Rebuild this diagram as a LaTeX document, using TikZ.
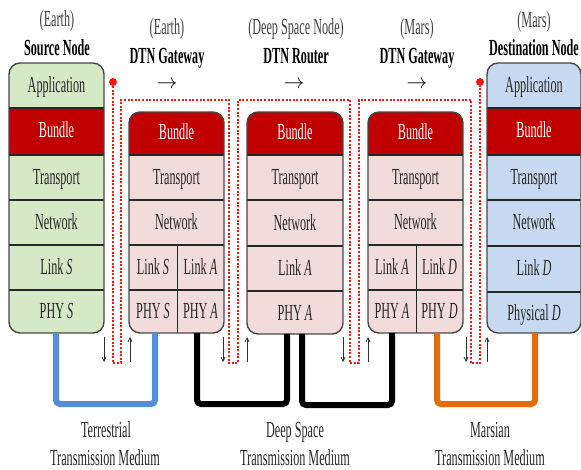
\documentclass[tikz,border=0pt]{standalone}
\usepackage{fontspec}
\setmainfont[FakeStretch=0.53]{Liberation Serif}
\usetikzlibrary{arrows.meta}

\definecolor{srcfill}{RGB}{214,233,198}
\definecolor{gwfill}{RGB}{242,220,219}
\definecolor{dstfill}{RGB}{198,217,240}
\definecolor{bundlered}{RGB}{192,0,0}
\definecolor{edgegray}{RGB}{70,70,70}
\definecolor{txt}{RGB}{38,38,38}
\definecolor{headgray}{RGB}{64,64,64}
\definecolor{terra}{RGB}{85,142,213}
\definecolor{marsorange}{RGB}{228,108,10}
\definecolor{pathred}{RGB}{250,20,20}

\tikzset{
  cell/.style={inner sep=0pt, text=txt, text height=15pt, text depth=0pt, anchor=center},
  bundletxt/.style={cell, text=white},
  boxline/.style={draw=edgegray, line width=1.4pt, rounded corners=11pt},
  rowline/.style={draw=black!85, line width=1.2pt},
  headlight/.style={inner sep=0pt, text=headgray, anchor=base},
  headbold/.style={inner sep=0pt, text=black, anchor=base, font=\fontsize{23}{25}\selectfont\bfseries},
  headarrow/.style={inner sep=0pt, text=black, font=\fontsize{22}{24}\selectfont},
  mediumtxt/.style={inner sep=0pt, text=txt, anchor=base},
  redpath/.style={draw=pathred, line width=2pt, dash pattern=on 2pt off 1.6pt},
  reddot/.style={circle, fill=pathred, inner sep=0pt, minimum size=8pt},
  flowarrow/.style={draw=black!80, line width=0.8pt, -{Straight Barb[length=4pt,width=4pt]}},
  medium/.style={line width=6pt, rounded corners=4pt},
}

\begin{document}
\begin{tikzpicture}[x=1pt, y=-1pt, font=\fontsize{23}{25}\selectfont]
\useasboundingbox (0,0) rectangle (581,470);

% ---------------- Source node (Earth) ----------------
\begin{scope}
  \clip[rounded corners=11pt] (9,63) rectangle (104,333);
  \fill[srcfill] (9,63) rectangle (104,333);
  \fill[bundlered] (9,108) rectangle (104,155);
\end{scope}
\foreach \yy in {108,155,200,245,290}
  \draw[rowline] (9,\yy) -- (104,\yy);
\draw[boxline] (9,63) rectangle (104,333);
\node[cell] (s-app) at (56.5,85.5) {Application};
\node[bundletxt] (s-bun) at (56.5,130.5) {Bundle};
\node[cell] (s-tra) at (56.5,177.5) {Transport};
\node[cell] (s-net) at (56.5,222.5) {Network};
\node[cell] (s-lnk) at (56.5,267.5) {Link \textit{S}};
\node[cell] (s-phy) at (56.5,311.5) {PHY \textit{S}};

% ---------------- DTN gateway (Earth) ----------------
\begin{scope}
  \clip[rounded corners=11pt] (129,112) rectangle (224,333);
  \fill[gwfill] (129,112) rectangle (224,333);
  \fill[bundlered] (129,112) rectangle (224,155);
\end{scope}
\foreach \yy in {155,200,245,290}
  \draw[rowline] (129,\yy) -- (224,\yy);
\draw[rowline, line width=0.9pt] (177,245) -- (177,333);
\draw[boxline] (129,112) rectangle (224,333);
\node[bundletxt] (g1-bun) at (176.5,132.5) {Bundle};
\node[cell] (g1-tra) at (176.5,177.5) {Transport};
\node[cell] (g1-net) at (176.5,222.5) {Network};
\node[cell] (g1-lnks) at (153,267.5) {Link \textit{S}};
\node[cell] (g1-lnka) at (200.5,267.5) {Link \textit{A}};
\node[cell] (g1-phys) at (153,311.5) {PHY \textit{S}};
\node[cell] (g1-phya) at (200.5,311.5) {PHY \textit{A}};

% ---------------- DTN router (deep space) ----------------
\begin{scope}
  \clip[rounded corners=11pt] (247,112) rectangle (343,334);
  \fill[gwfill] (247,112) rectangle (343,334);
  \fill[bundlered] (247,112) rectangle (343,155);
\end{scope}
\foreach \yy in {155,200,246,291}
  \draw[rowline] (247,\yy) -- (343,\yy);
\draw[boxline] (247,112) rectangle (343,334);
\node[bundletxt] (r-bun) at (295,132.5) {Bundle};
\node[cell] (r-tra) at (295,177.5) {Transport};
\node[cell] (r-net) at (295,223) {Network};
\node[cell] (r-lnk) at (295,268.5) {Link \textit{A}};
\node[cell] (r-phy) at (295,312.5) {PHY \textit{A}};

% ---------------- DTN gateway (Mars) ----------------
\begin{scope}
  \clip[rounded corners=11pt] (368,112) rectangle (463,333);
  \fill[gwfill] (368,112) rectangle (463,333);
  \fill[bundlered] (368,112) rectangle (463,155);
\end{scope}
\foreach \yy in {155,200,245,290}
  \draw[rowline] (368,\yy) -- (463,\yy);
\draw[rowline, line width=0.9pt] (416,245) -- (416,333);
\draw[boxline] (368,112) rectangle (463,333);
\node[bundletxt] (g2-bun) at (415.5,132.5) {Bundle};
\node[cell] (g2-tra) at (415.5,177.5) {Transport};
\node[cell] (g2-net) at (415.5,222.5) {Network};
\node[cell] (g2-lnka) at (392,267.5) {Link \textit{A}};
\node[cell] (g2-lnkd) at (439.5,267.5) {Link \textit{D}};
\node[cell] (g2-phya) at (392,311.5) {PHY \textit{A}};
\node[cell] (g2-phyd) at (439.5,311.5) {PHY \textit{D}};

% ---------------- Destination node (Mars) ----------------
\begin{scope}
  \clip[rounded corners=11pt] (487,63) rectangle (581,333);
  \fill[dstfill] (487,63) rectangle (581,333);
  \fill[bundlered] (487,108) rectangle (581,155);
\end{scope}
\foreach \yy in {108,155,200,246,292}
  \draw[rowline] (487,\yy) -- (581,\yy);
\draw[boxline] (487,63) rectangle (581,333);
\node[cell] (d-app) at (534,85.5) {Application};
\node[bundletxt] (d-bun) at (534,130.5) {Bundle};
\node[cell] (d-tra) at (534,177.5) {Transport};
\node[cell] (d-net) at (534,222.5) {Network};
\node[cell] (d-lnk) at (534,268.5) {Link \textit{D}};
\node[cell] (d-phy) at (534,312.5) {Physical \textit{D}};

% ---------------- Headings ----------------
\node[headlight] (h-src-loc) at (57,27) {(Earth)};
\node[headbold] (h-src) at (57,56) {Source Node};
\node[headlight] (h-g1-loc) at (167,35) {(Earth)};
\node[headbold] (h-g1) at (167,64) {DTN Gateway};
\node[headarrow] (h-g1-arr) at (167,85) {$\rightarrow$};
\node[headlight] (h-r-loc) at (296,35) {(Deep Space Node)};
\node[headbold] (h-r) at (296,64) {DTN Router};
\node[headarrow] (h-r-arr) at (294,85) {$\rightarrow$};
\node[headlight] (h-g2-loc) at (417,35) {(Mars)};
\node[headbold] (h-g2) at (417,64) {DTN Gateway};
\node[headarrow] (h-g2-arr) at (417,85) {$\rightarrow$};
\node[headlight] (h-dst-loc) at (534,28) {(Mars)};
\node[headbold] (h-dst) at (534,56) {Destination Node};

% ---------------- Transmission media ----------------
\coordinate (s-out) at (56,333);
\coordinate (g1-in) at (155,333);
\coordinate (g1-out) at (197,333);
\coordinate (r-in) at (287,334);
\coordinate (r-out) at (302,334);
\coordinate (g2-in) at (392,333);
\coordinate (g2-out) at (437,333);
\coordinate (d-in) at (535,333);
\draw[medium, terra] (s-out) -- ++(0,71) -| (g1-in);
\draw[medium, black] (g1-out) -- ++(0,71) -| (r-in);
\draw[medium, black] (r-out) -- ++(0,71) -| (g2-in);
\draw[medium, marsorange] (g2-out) -- ++(0,71) -| (d-in);

\node[mediumtxt] (m-terra) at (106,437) {Terrestrial};
\node[mediumtxt] (m-terra2) at (105,465) {Transmission Medium};
\node[mediumtxt] (m-deep) at (295,437) {Deep Space};
\node[mediumtxt] (m-deep2) at (295,465) {Transmission Medium};
\node[mediumtxt] (m-mars) at (490,437) {Marsian};
\node[mediumtxt] (m-mars2) at (490,465) {Transmission Medium};

% ---------------- Bundle route (red dotted) ----------------
\node[reddot] (route-start) at (113,82) {};
\node[reddot] (route-end) at (480,82) {};
\draw[redpath] (route-start) -- (113,363) -- (121,363) -- (121,100)
  -- (229,100) -- (229,363) -- (238,363) -- (238,100)
  -- (350,100) -- (350,363) -- (359,363) -- (359,100)
  -- (471,100) -- (471,363) -- (480,363) -- (route-end);

% ---------------- Down / up hops ----------------
\draw[flowarrow] (104,337) -- (104,362);
\draw[flowarrow] (130,362) -- (130,337);
\draw[flowarrow] (223,337) -- (223,362);
\draw[flowarrow] (247,362) -- (247,337);
\draw[flowarrow] (343,337) -- (343,362);
\draw[flowarrow] (368,362) -- (368,337);
\draw[flowarrow] (466,337) -- (466,362);
\draw[flowarrow] (487,362) -- (487,337);
\end{tikzpicture}
\end{document}
